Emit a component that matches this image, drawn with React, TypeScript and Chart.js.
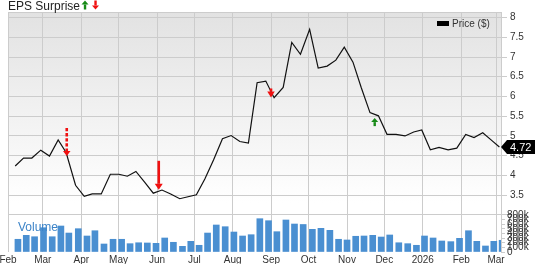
import React, { useEffect, useRef } from 'react';
import { Chart, registerables } from 'chart.js';

Chart.register(...registerables);

// ---- data (days counted from 2025-02-01) ----
const PRICE_DAYS = [5.8, 12.5, 19.2, 26.4, 33.4, 40.4, 46.8, 54.4, 61.4, 67.8, 75.1, 82.4, 89.3, 96.1, 103, 110, 117, 124, 131, 138.3, 145, 151.7, 158.5, 165.5, 172.7, 179.7, 186.7, 193.6, 200.6, 207.6, 214.3, 221.6, 228.5, 235.5, 242.9, 249.8, 257, 264, 270.8, 277.8, 284.5, 291.5, 298.3, 305.2, 312.5, 319.7, 326.7, 333.2, 340.1, 347.1, 354.4, 361.4, 368.6, 375.3, 382.3, 389, 395.7];
const PRICES = [4.24, 4.44, 4.44, 4.64, 4.49, 4.90, 4.58, 3.75, 3.47, 3.53, 3.53, 4.03, 4.03, 3.98, 4.10, 3.83, 3.55, 3.63, 3.53, 3.41, 3.46, 3.51, 3.91, 4.39, 4.93, 5.01, 4.86, 4.82, 6.35, 6.39, 5.97, 6.23, 7.37, 7.07, 7.70, 6.72, 6.77, 6.92, 7.25, 6.87, 6.22, 5.59, 5.51, 5.04, 5.04, 5.00, 5.10, 5.15, 4.65, 4.71, 4.65, 4.69, 5.04, 4.96, 5.08, 4.90, 4.72];
const VOLUME_K = [275, 360, 330, 525, 330, 562, 410, 504, 346, 460, 173, 275, 275, 180, 200, 195, 188, 303, 210, 123, 231, 145, 410, 584, 547, 432, 346, 374, 720, 677, 439, 692, 605, 595, 490, 512, 469, 275, 260, 340, 346, 360, 324, 368, 200, 180, 145, 346, 303, 238, 224, 296, 460, 231, 130, 231, 253];
const VOLUME_BAR_SHIFT_DAYS = 2.2;

const MONTH_TICK_DAYS = [0, 28, 59, 89, 120, 150, 181, 212, 242, 273, 303, 334, 365, 393];
const MONTH_TICK_LABELS = ['Feb', 'Mar', 'Apr', 'May', 'Jun', 'Jul', 'Aug', 'Sep', 'Oct', 'Nov', 'Dec', '2026', 'Feb', 'Mar'];
const PRICE_TICKS = [3, 3.5, 4, 4.5, 5, 5.5, 6, 6.5, 7, 7.5, 8];
const VOLUME_TICKS = [0, 100000, 200000, 300000, 400000, 500000, 600000, 700000, 800000];

const EPS_DAYS = [47.3, 121.4, 211.8, 295.3];
const EPS_RESULT = ['miss', 'miss', 'miss', 'beat'];

const FONT = "'Liberation Sans', Arial, Helvetica, sans-serif";
const GRID = '#cccccc';
const TEXT = '#333333';
const RED = '#f01010';
const GREEN = '#178a17';

// arrow styling per EPS marker (visual only)
const ARROW_STYLE = [
  { total: 28, head: 5, width: 7.5, shaft: 2.6, dashed: true, gap: 1.3 },
  { total: 29, head: 6, width: 8, shaft: 2.6, dashed: false, gap: -1.4 },
  { total: 9, head: 6, width: 7.5, shaft: 2.6, dashed: false, gap: 6 },
  { total: 8, head: 4, width: 7, shaft: 2.4, dashed: false, gap: 3.7 },
];

function priceAt(day: number): number {
  for (let i = 0; i < PRICE_DAYS.length - 1; i++) {
    if (day >= PRICE_DAYS[i] && day <= PRICE_DAYS[i + 1]) {
      const t = (day - PRICE_DAYS[i]) / (PRICE_DAYS[i + 1] - PRICE_DAYS[i]);
      return PRICES[i] + t * (PRICES[i + 1] - PRICES[i]);
    }
  }
  return PRICES[PRICES.length - 1];
}

function drawArrow(ctx: CanvasRenderingContext2D, x: number, tipY: number, dir: number, total: number, headH: number, headW: number, shaftW: number, color: string, dashed: boolean) {
  ctx.save();
  ctx.fillStyle = color;
  ctx.strokeStyle = color;
  const baseY = tipY - dir * headH;
  const tailY = tipY - dir * total;
  ctx.lineWidth = shaftW;
  if (dashed) ctx.setLineDash([3.3, 1.8]);
  ctx.beginPath();
  ctx.moveTo(x, tailY);
  ctx.lineTo(x, baseY);
  ctx.stroke();
  ctx.setLineDash([]);
  ctx.beginPath();
  ctx.moveTo(x - headW / 2, baseY);
  ctx.lineTo(x + headW / 2, baseY);
  ctx.lineTo(x, tipY);
  ctx.closePath();
  ctx.fill();
  ctx.restore();
}

export default function App() {
  const ref = useRef<HTMLCanvasElement>(null);

  useEffect(() => {
    const canvas = ref.current;
    if (!canvas) return;

    const overlay = {
      id: 'overlay',
      afterLayout(chart: any) {
        // overlay the volume axis on the price axis column
        const v = chart.scales.y1;
        const a = chart.chartArea;
        if (v && a) {
          v.left = a.right;
          v.right = chart.width;
          v._labelItems = null;
          v._gridLineItems = null;
        }
      },
      beforeDraw(chart: any) {
        const { ctx, chartArea: a } = chart;
        const yEnd = chart.scales.y.getPixelForValue(3.3);
        const g = ctx.createLinearGradient(0, a.top, 0, yEnd);
        g.addColorStop(0, '#e2e2e2');
        g.addColorStop(1, '#ffffff');
        ctx.save();
        ctx.fillStyle = '#ffffff';
        ctx.fillRect(a.left, a.top, a.right - a.left, a.bottom - a.top);
        ctx.fillStyle = g;
        ctx.fillRect(a.left, a.top, a.right - a.left, yEnd - a.top);
        ctx.restore();
      },
      afterDraw(chart: any) {
        const { ctx, chartArea: a } = chart;
        const xs = chart.scales.x;
        const ys = chart.scales.y;
        ctx.save();
        // plot frame (left / top)
        ctx.strokeStyle = GRID;
        ctx.lineWidth = 1;
        ctx.beginPath();
        ctx.moveTo(a.left + 0.5, a.bottom);
        ctx.lineTo(a.left + 0.5, a.top + 0.5);
        ctx.lineTo(a.right, a.top + 0.5);
        ctx.stroke();

        // EPS surprise arrows
        EPS_DAYS.forEach((d, i) => {
          const st = ARROW_STYLE[i];
          const x = xs.getPixelForValue(d);
          const lineY = ys.getPixelForValue(priceAt(d));
          if (EPS_RESULT[i] === 'miss') {
            drawArrow(ctx, x, lineY + st.gap, 1, st.total, st.head, st.width, st.shaft, RED, st.dashed);
          } else {
            drawArrow(ctx, x, lineY + st.gap, -1, st.total, st.head, st.width, st.shaft, GREEN, st.dashed);
          }
        });

        // title
        ctx.fillStyle = '#222222';
        ctx.font = `12px ${FONT}`;
        ctx.textAlign = 'left';
        ctx.textBaseline = 'alphabetic';
        ctx.fillText('EPS Surprise', 8, 10);
        const tw = ctx.measureText('EPS Surprise').width;
        drawArrow(ctx, 8 + tw + 5, 0.5, -1, 9, 4, 7, 2.4, GREEN, false);
        drawArrow(ctx, 8 + tw + 15.5, 9.5, 1, 9, 4, 7, 2.4, RED, false);

        // legend
        ctx.fillStyle = '#000000';
        ctx.fillRect(a.right - 64, 21, 12, 5);
        ctx.fillStyle = TEXT;
        ctx.font = `10px ${FONT}`;
        ctx.fillText('Price ($)', a.right - 49, 27);

        // volume label
        ctx.fillStyle = '#3d84c8';
        ctx.font = `12px ${FONT}`;
        ctx.fillText('Volume', a.left + 10, 231);

        // last price tag
        const last = PRICES[PRICES.length - 1];
        const ly = ys.getPixelForValue(last);
        ctx.fillStyle = '#000000';
        ctx.beginPath();
        ctx.moveTo(a.right, ly);
        ctx.lineTo(a.right + 6, ly - 7);
        ctx.lineTo(535, ly - 7);
        ctx.lineTo(535, ly + 7);
        ctx.lineTo(a.right + 6, ly + 7);
        ctx.closePath();
        ctx.fill();
        ctx.fillStyle = '#ffffff';
        ctx.font = `11px ${FONT}`;
        ctx.textBaseline = 'middle';
        ctx.fillText(last.toFixed(2), a.right + 9, ly + 0.5);
        ctx.restore();
      },
    };

    const chart = new Chart(canvas, {
      type: 'line',
      data: {
        datasets: [
          {
            type: 'line',
            label: 'Price ($)',
            data: PRICE_DAYS.map((d, i) => ({ x: d, y: PRICES[i] })),
            borderColor: '#111111',
            borderWidth: 1.2,
            pointRadius: 0,
            tension: 0,
            yAxisID: 'y',
            xAxisID: 'x',
          },
          {
            type: 'bar',
            label: 'Volume',
            data: PRICE_DAYS.map((d, i) => ({ x: d + VOLUME_BAR_SHIFT_DAYS, y: VOLUME_K[i] * 1000 })),
            backgroundColor: '#4a8fd1',
            borderWidth: 0,
            barThickness: 6,
            yAxisID: 'y1',
            xAxisID: 'x',
          },
        ],
      } as any,
      options: {
        responsive: false,
        animation: false,
        devicePixelRatio: 1,
        events: [],
        layout: { padding: { left: 8, top: 12, right: 0, bottom: 0 } },
        plugins: { legend: { display: false }, tooltip: { enabled: false }, title: { display: false } },
        scales: {
          x: {
            type: 'linear',
            min: 0,
            max: 397,
            offset: false,
            grid: { color: GRID, drawTicks: false, offset: false },
            border: { display: false },
            afterBuildTicks: (s: any) => { s.ticks = MONTH_TICK_DAYS.map((v) => ({ value: v })); },
            afterFit: (s: any) => { s.height = 12; s.paddingLeft = 0; s.paddingRight = 0; },
            ticks: {
              autoSkip: false,
              maxRotation: 0,
              padding: 2,
              color: TEXT,
              font: { size: 10, family: FONT },
              callback: (v: any) => {
                const i = MONTH_TICK_DAYS.indexOf(Number(v));
                return i >= 0 ? MONTH_TICK_LABELS[i] : '';
              },
            },
          },
          y: {
            type: 'linear',
            position: 'right',
            weight: 0,
            min: 2.06,
            max: 8.14,
            grid: { color: GRID, drawTicks: true, tickLength: 6 },
            border: { display: true, color: GRID },
            afterBuildTicks: (s: any) => { s.ticks = PRICE_TICKS.map((v) => ({ value: v })); },
            afterFit: (s: any) => { s.width = 34; s.paddingTop = 0; s.paddingBottom = 0; },
            ticks: {
              autoSkip: false,
              padding: 3,
              color: TEXT,
              font: { size: 10, family: FONT },
              callback: (v: any) => (Number(v) === 3 ? '' : String(v)),
            },
          },
          y1: {
            type: 'linear',
            position: 'right',
            weight: 5,
            min: 0,
            max: 5189000,
            grid: { drawOnChartArea: false, drawTicks: true, tickLength: 4, color: GRID },
            border: { display: false },
            afterBuildTicks: (s: any) => { s.ticks = VOLUME_TICKS.map((v) => ({ value: v })); },
            afterFit: (s: any) => { s.width = 0; s.paddingTop = 0; s.paddingBottom = 0; },
            ticks: {
              autoSkip: false,
              padding: 2,
              color: TEXT,
              font: { size: 10, family: FONT },
              callback: (v: any) => (Number(v) === 0 ? '0' : `${Number(v) / 1000}k`),
            },
          },
        },
      } as any,
      plugins: [overlay],
    });

    return () => chart.destroy();
  }, []);

  return (
    <div style={{ position: 'absolute', left: 0, top: 0, width: 535, height: 264 }}>
      <canvas ref={ref} width={535} height={264} style={{ display: 'block', width: 535, height: 264 }} />
    </div>
  );
}
